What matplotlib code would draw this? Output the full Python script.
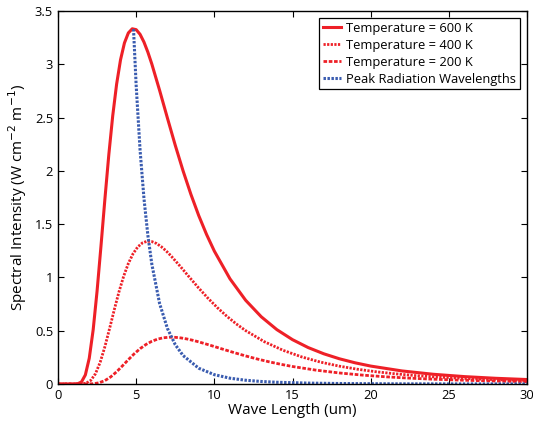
import matplotlib
matplotlib.use("Agg")
import matplotlib.pyplot as plt
from matplotlib.ticker import FormatStrFormatter, MultipleLocator

plt.rcParams['font.family'] = ['Open Sans', 'DejaVu Sans']

# wave length (um) and intensity
wl_600 = [0, 0.5, 1.0, 1.25, 1.5, 1.75, 2.0, 2.25, 2.5, 2.75, 3.0, 3.25, 3.5, 3.75,
          4.0, 4.25, 4.5, 4.75, 5.0, 5.25, 5.5, 5.75, 6.0, 6.5, 7.0, 7.5, 8.0,
          8.5, 9.0, 9.5, 10, 11, 12, 13, 14, 15, 16, 17, 18, 19, 20, 22, 24,
          26, 28, 30]
int_600 = [0, 0, 0.0001, 0.0019, 0.0187, 0.085, 0.2419, 0.5086, 0.8721, 1.2952,
           1.7344, 2.1504, 2.5157, 2.8139, 3.042, 3.2, 3.294, 3.333, 3.325, 3.281,
           3.208, 3.113, 3.003, 2.755, 2.495, 2.24, 2.0, 1.78, 1.581, 1.404,
           1.247, 0.987, 0.786, 0.631, 0.51, 0.416, 0.342, 0.2835, 0.2366,
           0.1989, 0.1682, 0.1226, 0.0913, 0.0693, 0.0535, 0.0419]

wl_400 = [0, 0.6, 1.2, 1.5, 1.8, 2.1, 2.4, 2.7, 3.0, 3.3, 3.6, 3.9, 4.2, 4.5,
          4.8, 5.1, 5.4, 5.7, 6.0, 6.3, 6.6, 6.9, 7.2, 7.8, 8.4, 9.0, 9.6,
          10.2, 10.8, 11.4, 12.0, 13.2, 14.4, 15.6, 16.8, 18.0, 19.2, 20.4,
          21.6, 22.8, 24.0, 26.4, 28.8, 31.2]
int_400 = [0, 0, 0, 0.0008, 0.0075, 0.0342, 0.0972, 0.2044, 0.3505, 0.5205,
           0.697, 0.8642, 1.011, 1.1308, 1.2225, 1.286, 1.3238, 1.3395, 1.3363,
           1.3186, 1.2892, 1.2511, 1.2068, 1.1072, 1.0027, 0.9002, 0.8038,
           0.7153, 0.6354, 0.5642, 0.5011, 0.3967, 0.3159, 0.2536, 0.205,
           0.1672, 0.1374, 0.1139, 0.0951, 0.0799, 0.0676, 0.0493, 0.0367,
           0.0279]

wl_200 = [0, 0.75, 1.5, 1.875, 2.25, 2.625, 3.0, 3.375, 3.75, 4.125, 4.5, 4.875,
          5.25, 5.625, 6.0, 6.375, 6.75, 7.125, 7.5, 7.875, 8.25, 8.625, 9.0,
          9.75, 10.5, 11.25, 12.0, 12.75, 13.5, 14.25, 15.0, 16.5, 18.0, 19.5,
          21.0, 22.5, 24.0, 25.5, 27.0, 28.5, 30.0]
int_200 = [0, 0, 0, 0.0003, 0.0025, 0.0112, 0.0319, 0.067, 0.1148, 0.1706,
           0.2284, 0.2832, 0.3313, 0.3706, 0.4006, 0.4214, 0.4338, 0.4389,
           0.4379, 0.4321, 0.4225, 0.41, 0.3955, 0.3628, 0.3286, 0.295, 0.2634,
           0.2344, 0.2082, 0.1849, 0.1642, 0.13, 0.1035, 0.0831, 0.0672,
           0.0548, 0.045, 0.0373, 0.0312, 0.0262, 0.0222]

wl_peak = [4.83, 5.0, 5.25, 5.5, 5.75, 6.0, 6.5, 7.0, 7.5, 8.0, 9.0, 10, 11, 12,
           13, 14, 16, 18, 20, 22, 25, 30]
int_peak = [3.33, 2.801, 2.195, 1.739, 1.393, 1.126, 0.7544, 0.5208, 0.3689,
            0.2671, 0.1482, 0.0875, 0.0544, 0.0352, 0.0236, 0.0163, 0.0083,
            0.0046, 0.0027, 0.0015, 0.0009, 0.0004]

red = '#ee2027'
blue = '#3a5cb0'

fig = plt.figure(figsize=(5.33, 4.29), dpi=100)
ax = fig.add_axes([0.1088, 0.1049, 0.8800, 0.8695])

ax.plot(wl_600, int_600, color=red, lw=2.2, label='Temperature = 600 K')
ax.plot(wl_400, int_400, color=red, lw=2.0, ls=(0, (0.8, 0.5)),
        label='Temperature = 400 K')
ax.plot(wl_200, int_200, color=red, lw=2.0, ls=(0, (1.3, 0.6)),
        label='Temperature = 200 K')
ax.plot(wl_peak, int_peak, color=blue, lw=2.2, ls=(0, (0.8, 0.5)),
        label='Peak Radiation Wavelengths')

ax.set_xlim(0, 30)
ax.set_ylim(0, 3.5)
ax.xaxis.set_major_locator(MultipleLocator(5))
ax.yaxis.set_major_locator(MultipleLocator(0.5))
ax.yaxis.set_major_formatter(FormatStrFormatter('%g'))
ax.tick_params(direction='in', top=True, right=True, labelsize=9.3,
               length=4, width=0.8)
for s in ax.spines.values():
    s.set_linewidth(1.0)

ax.set_xlabel('Wave Length (um)', fontsize=11, labelpad=1)
ax.set_ylabel('Spectral Intensity (W cm$^{-2}$ m$^{-1}$)', fontsize=11,
              labelpad=4)

leg = ax.legend(loc='upper right', fontsize=9.3, handlelength=1.4,
                fancybox=False, edgecolor='black', framealpha=1,
                borderpad=0.3, labelspacing=0.3, handletextpad=0.4,
                borderaxespad=0.55)
leg.get_frame().set_linewidth(0.9)

fig.savefig('out.png', dpi=100)
